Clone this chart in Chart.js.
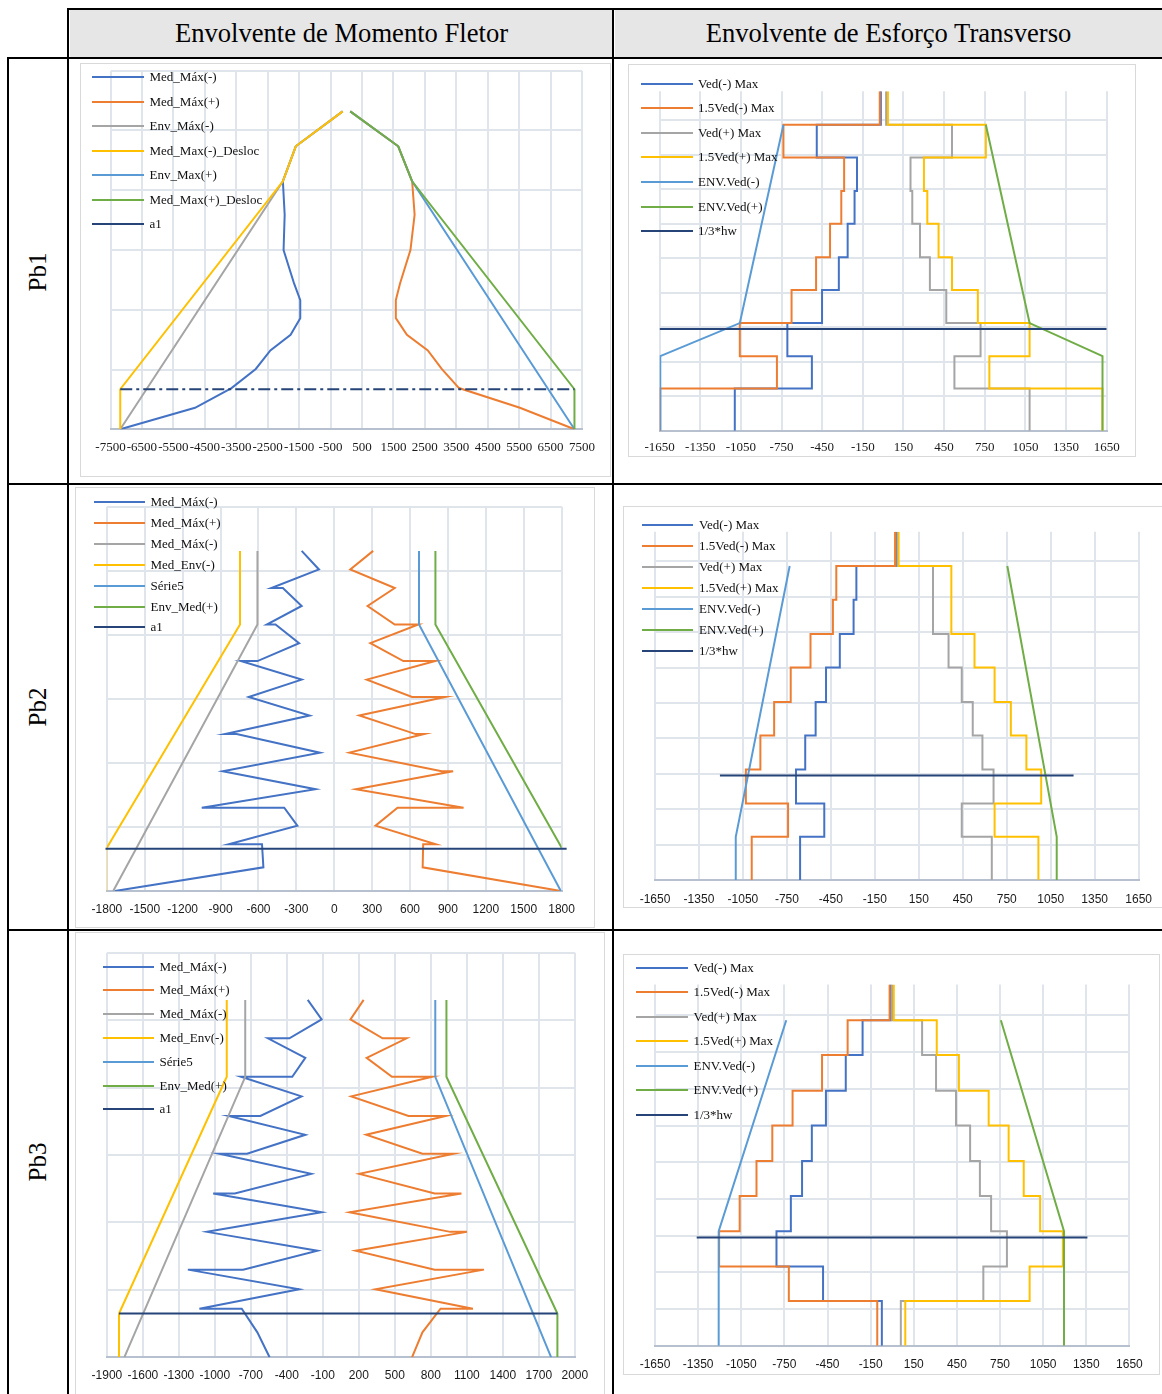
<!DOCTYPE html>
<html>
<head>
<meta charset="utf-8">
<script src="https://cdn.jsdelivr.net/npm/chart.js@4.4.0/dist/chart.umd.min.js"></script>
<style>
  body { margin: 0; background: #fff; width: 1162px; height: 1394px; position: relative; overflow: hidden; font-family: "Liberation Serif", serif; color: #000; }
  .hl { position: absolute; height: 2px; background: #000; }
  .vl { position: absolute; width: 2px; background: #000; }
  .head { position: absolute; top: 10px; height: 47px; background: #e7e6e6; font-size: 26.6px; line-height: 47px; text-align: center; }
  .rowlab { position: absolute; width: 120px; height: 30px; line-height: 30px; font-size: 25px; text-align: center; transform: rotate(-90deg); }
  .frame { position: absolute; border: 1px solid #d9d9d9; box-sizing: border-box; pointer-events: none; }
  canvas { position: absolute; }
  .lg { position: absolute; font-size: 13px; white-space: nowrap; color: #111; }
</style>
</head>
<body>
<div class="head" style="left:70px;width:543px">Envolvente de Momento Fletor</div>
<div class="head" style="left:615px;width:547px">Envolvente de Esforço Transverso</div>
<div class="rowlab" style="left:-22px;top:257px">Pb1</div>
<div class="rowlab" style="left:-22px;top:692px">Pb2</div>
<div class="rowlab" style="left:-22px;top:1147px">Pb3</div>

<script>
// ---------- Pb1 : momento fletor ----------
const pb1MomY = [5.32, 4.735, 4.15, 3.59, 3.0, 2.44, 2.16, 1.86, 1.58, 1.32, 1.01, 0.69, 0.36, 0];
const pb1MedNeg = [-114, -1606, -2016, -1959, -1994, -1660, -1463, -1463, -1771, -2414, -2878, -3651, -4811, -7190];
const pb1MedPos = [127, 1654, 2096, 2175, 2042, 1711, 1577, 1577, 1930, 2595, 3037, 3587, 5524, 7260];
const pb1EnvY = [5.32, 4.735, 4.15, 0];
const pb1EnvNeg = [-114, -1606, -2016, -7190];
const pb1EnvPos = [127, 1654, 2096, 7260];
const pb1DeslocY = [5.32, 4.735, 4.15, 0.67, 0];
const pb1DeslocNeg = [-114, -1606, -2016, -7190, -7190];
const pb1DeslocPos = [127, 1654, 2096, 7260, 7260];
const pb1A1X = [-7190, 7260];
const pb1A1Y = [0.67, 0.67];
const pb1MomTicks = [-7500, -6500, -5500, -4500, -3500, -2500, -1500, -500, 500, 1500, 2500, 3500, 4500, 5500, 6500, 7500];

// ---------- Pb2 : momento fletor ----------
const pb2MedNegX = [-258, -121, -498, -407, -258, -534, -465, -278, -608, -740, -258, -677, -195, -864, -773, -113, -883, -148, -1049, -396, -292, -836, -572, -561, -1737];
const pb2MedNegY = [5.31, 5.02, 4.73, 4.73, 4.45, 4.16, 4.16, 3.87, 3.59, 3.59, 3.30, 3.03, 2.74, 2.45, 2.45, 2.16, 1.87, 1.59, 1.30, 1.30, 1.02, 0.73, 0.73, 0.37, 0];
const pb2MedPosX = [308, 127, 479, 264, 479, 666, 286, 547, 801, 258, 616, 878, 198, 644, 713, 121, 851, 941, 171, 1024, 501, 327, 804, 704, 700, 1794];
const pb2MedPosY = [5.31, 5.02, 4.73, 4.45, 4.16, 4.16, 3.87, 3.59, 3.59, 3.30, 3.03, 3.03, 2.74, 2.45, 2.45, 2.16, 1.87, 1.87, 1.59, 1.30, 1.30, 1.02, 0.73, 0.73, 0.37, 0];
const pb2GrayX = [-608, -608, -1750];
const pb2GrayY = [5.31, 4.16, 0];
const pb2EnvNegX = [-746, -746, -1805, -1805];
const pb2EnvNegY = [5.31, 4.16, 0.66, 0];
const pb2Serie5X = [671, 671, 1794];
const pb2Serie5Y = [5.31, 4.16, 0];
const pb2EnvPosX = [801, 801, 1805, 1805];
const pb2EnvPosY = [5.31, 4.16, 0.66, 0];
const pb2A1X = [-1811, 1840];
const pb2A1Y = [0.66, 0.66];
const pb2MomTicks = [-1800, -1500, -1200, -900, -600, -300, 0, 300, 600, 900, 1200, 1500, 1800];

// ---------- Pb3 : momento fletor ----------
const pb3MedNegX = [-226, -110, -379, -558, -246, -355, -782, -278, -621, -884, -246, -732, -964, -197, -834, -1014, -110, -1066, -145, -765, -1225, -298, -1129, -776, -646, -544];
const pb3MedNegY = [5.30, 5.01, 4.73, 4.73, 4.44, 4.16, 4.16, 3.87, 3.58, 3.58, 3.30, 3.02, 3.02, 2.72, 2.43, 2.43, 2.15, 1.86, 1.58, 1.30, 1.30, 1.01, 0.72, 0.72, 0.37, 0];
const pb3MedPosX = [240, 130, 398, 598, 265, 476, 812, 137, 614, 924, 261, 730, 990, 204, 832, 1055, 123, 962, 1101, 174, 832, 1243, 339, 1151, 881, 730, 643];
const pb3MedPosY = [5.30, 5.01, 4.73, 4.73, 4.44, 4.16, 4.16, 3.87, 3.58, 3.58, 3.30, 3.02, 3.02, 2.72, 2.43, 2.43, 2.15, 1.86, 1.86, 1.58, 1.30, 1.30, 1.01, 0.72, 0.72, 0.37, 0];
const pb3GrayX = [-747, -747, -1755];
const pb3GrayY = [5.30, 4.16, 0];
const pb3EnvNegX = [-901, -901, -1799, -1799];
const pb3EnvNegY = [5.30, 4.16, 0.65, 0];
const pb3Serie5X = [837, 837, 1803];
const pb3Serie5Y = [5.30, 4.16, 0];
const pb3EnvPosX = [930, 930, 1855, 1855];
const pb3EnvPosY = [5.30, 4.16, 0.65, 0];
const pb3A1X = [-1799, 1855];
const pb3A1Y = [0.65, 0.65];
const pb3MomTicks = [-1900, -1600, -1300, -1000, -700, -400, -100, 200, 500, 800, 1100, 1400, 1700, 2000];

// ---------- esforço transverso (10 pisos, de baixo para cima) ----------
const shearLevels = [0, 1.22, 2.16, 3.12, 4.08, 5.03, 6.0, 6.95, 7.92, 8.87, 9.84];
const shearTicks = [-1650, -1350, -1050, -750, -450, -150, 150, 450, 750, 1050, 1350, 1650];

const pb1VedNeg = [-1095, -526, -707, -451, -327, -262, -211, -193, -490, -17];
const pb1VedNeg15 = [-1645, -784, -1058, -676, -495, -392, -309, -288, -736, -25];
const pb1VedPos = [1081, 526, 719, 466, 345, 272, 215, 202, 508, 22];
const pb1VedPos15 = [1619, 784, 1081, 699, 508, 409, 326, 301, 758, 35];
const pb1EnvVNegX = [-1645, -1645, -1058, -736];
const pb1EnvVPosX = [1619, 1619, 1081, 758];
const pb1EnvVY = [0, 2.16, 3.12, 8.87];
const pb1HwX = [-1650, 1650];

const pb2VedNeg = [-660, -495, -688, -625, -554, -483, -389, -295, -276, -5];
const pb2VedNeg15 = [-990, -742, -1030, -931, -837, -724, -589, -436, -413, -12];
const pb2VedPos = [648, 443, 660, 584, 518, 443, 353, 247, 247, 5];
const pb2VedPos15 = [966, 667, 985, 884, 778, 667, 530, 372, 372, 12];
const pb2EnvVNegX = [-1099, -1099, -731];
const pb2EnvVPosX = [1091, 1091, 754];
const pb2EnvVY = [0, 1.22, 8.87];
const pb2HwX = [-1207, 1206];

const pb3VedNeg = [-72, -481, -805, -705, -627, -559, -461, -323, -206, -11];
const pb3VedNeg15 = [-104, -719, -1204, -1061, -944, -834, -693, -488, -310, -18];
const pb3VedPos = [60, 634, 798, 688, 610, 542, 444, 305, 208, 0];
const pb3VedPos15 = [91, 956, 1187, 1029, 915, 810, 671, 464, 310, 11];
const pb3EnvVNegX = [-1207, -1207, -737];
const pb3EnvVPosX = [1195, 1195, 756];
const pb3EnvVY = [0, 3.12, 8.87];
const pb3HwX = [-1360, 1358];

const hwY = [2.95, 2.95];

const momLabels1 = ['Med_Máx(-)', 'Med_Máx(+)', 'Env_Máx(-)', 'Med_Max(-)_Desloc', 'Env_Max(+)', 'Med_Max(+)_Desloc', 'a1'];
const momLabels2 = ['Med_Máx(-)', 'Med_Máx(+)', 'Med_Máx(-)', 'Med_Env(-)', 'Série5', 'Env_Med(+)', 'a1'];
const shearLabels = ['Ved(-) Max', '1.5Ved(-) Max', 'Ved(+) Max', '1.5Ved(+) Max', 'ENV.Ved(-)', 'ENV.Ved(+)', '1/3*hw'];
const colors = ['#4472C4', '#ED7D31', '#A5A5A5', '#FFC000', '#5B9BD5', '#70AD47', '#264478'];

const GRID = '#e0e4eb';
const AXIS = '#b7c0cf';

function pts(xs, ys) {
    return xs.map((x, i) => ({ x: x, y: ys[i] }));
}

function steps(vals) {
    const out = [];
    vals.forEach((v, i) => {
        out.push({ x: v, y: shearLevels[i] });
        out.push({ x: v, y: shearLevels[i + 1] });
    });
    return out;
}

function line(x, y, w, h, cls) {
    const d = document.createElement('div');
    d.className = cls;
    d.style.left = x + 'px';
    d.style.top = y + 'px';
    if (cls === 'hl') d.style.width = w + 'px'; else d.style.height = h + 'px';
    document.body.appendChild(d);
}

// table lines
line(68, 8, 1094, 0, 'hl');
line(8, 57, 1154, 0, 'hl');
line(8, 483, 1154, 0, 'hl');
line(8, 929, 1154, 0, 'hl');
line(7, 57, 0, 1337, 'vl');
line(67, 8, 0, 1386, 'vl');
line(612, 8, 0, 1386, 'vl');

function makeChart(c) {
    const [fl, ft, fr, fb] = c.frame;
    const [pl, pt, pr, pb] = c.plot;
    const cv = document.createElement('canvas');
    cv.width = fr - fl;
    cv.height = fb - ft;
    cv.style.left = fl + 'px';
    cv.style.top = ft + 'px';
    document.body.appendChild(cv);

    const box = document.createElement('div');
    box.className = 'frame';
    box.style.left = fl + 'px';
    box.style.top = ft + 'px';
    box.style.width = (fr - fl) + 'px';
    box.style.height = (fb - ft) + 'px';
    document.body.appendChild(box);

    new Chart(cv, {
        type: 'scatter',
        data: {
            datasets: c.series.map((s, i) => ({
                label: c.labels[i],
                data: s.data,
                borderColor: colors[i],
                backgroundColor: colors[i],
                borderWidth: 2,
                borderDash: s.dash || [],
                showLine: true,
                pointRadius: 0,
                pointHoverRadius: 0,
                tension: 0,
                fill: false,
                clip: s.clip === false ? false : undefined,
                order: 10 - i
            }))
        },
        options: {
            responsive: false,
            animation: false,
            events: [],
            layout: {
                padding: { left: pl - fl, right: fr - pr, top: pt - ft, bottom: 0 }
            },
            plugins: {
                legend: { display: false },
                tooltip: { enabled: false }
            },
            scales: {
                x: {
                    type: 'linear',
                    min: c.xTicks[0],
                    max: c.xTicks[c.xTicks.length - 1],
                    afterBuildTicks: ax => { ax.ticks = c.xTicks.map(v => ({ value: v })); },
                    afterFit: ax => { ax.height = fb - pb; },
                    ticks: {
                        autoSkip: false,
                        maxRotation: 0,
                        minRotation: 0,
                        padding: c.tickPad,
                        color: '#1a1a1a',
                        font: { family: c.tickFont, size: c.tickSize },
                        callback: v => String(v)
                    },
                    grid: { color: GRID, lineWidth: 2, drawTicks: false },
                    border: { display: true, color: AXIS, width: 2 }
                },
                y: {
                    type: 'linear',
                    min: 0,
                    max: c.yMax,
                    afterBuildTicks: ax => { ax.ticks = c.yGrid.map(v => ({ value: v })); },
                    afterFit: ax => { ax.width = 0; },
                    ticks: { display: false },
                    grid: { color: GRID, lineWidth: 2, drawTicks: false },
                    border: { display: false }
                }
            }
        }
    });

    // legend drawn as html on top of the plot
    const lg = c.legend;
    c.labels.forEach((lab, i) => {
        const y = lg.y0 + i * lg.dy;
        const sw = document.createElement('div');
        sw.className = 'lg';
        sw.style.left = lg.x + 'px';
        sw.style.top = (y - 1) + 'px';
        sw.style.width = lg.w + 'px';
        sw.style.height = '2px';
        sw.style.background = colors[i];
        document.body.appendChild(sw);
        const t = document.createElement('div');
        t.className = 'lg';
        t.style.left = lg.tx + 'px';
        t.style.top = (y - 8) + 'px';
        t.style.lineHeight = '16px';
        t.textContent = lab;
        document.body.appendChild(t);
    });
}

const serif = '"Liberation Serif", serif';
const sans = '"Liberation Sans", Arial, sans-serif';
const momGrid = [0, 1, 2, 3, 4, 5, 6];
const shearGrid = [0, 1, 2, 3, 4, 5, 6, 7, 8, 9];

makeChart({
    frame: [80, 63, 611, 477], plot: [110.5, 70.7, 582, 429.3],
    xTicks: pb1MomTicks, yMax: 6, yGrid: momGrid, tickFont: serif, tickSize: 13, tickPad: 10,
    labels: momLabels1,
    legend: { x: 92, w: 52, tx: 149.5, y0: 77, dy: 24.5 },
    series: [
        { data: pts(pb1MedNeg, pb1MomY) },
        { data: pts(pb1MedPos, pb1MomY) },
        { data: pts(pb1EnvNeg, pb1EnvY) },
        { data: pts(pb1DeslocNeg, pb1DeslocY) },
        { data: pts(pb1EnvPos, pb1EnvY) },
        { data: pts(pb1DeslocPos, pb1DeslocY) },
        { data: pts(pb1A1X, pb1A1Y), dash: [12, 4, 3, 4] }
    ]
});

makeChart({
    frame: [628, 64, 1136, 457], plot: [659.6, 91.3, 1106.7, 430.7],
    xTicks: shearTicks, yMax: 9.84, yGrid: shearGrid, tickFont: serif, tickSize: 13, tickPad: 9,
    labels: shearLabels,
    legend: { x: 641, w: 52, tx: 698, y0: 83.5, dy: 24.6 },
    series: [
        { data: steps(pb1VedNeg) },
        { data: steps(pb1VedNeg15) },
        { data: steps(pb1VedPos) },
        { data: steps(pb1VedPos15) },
        { data: pts(pb1EnvVNegX, pb1EnvVY) },
        { data: pts(pb1EnvVPosX, pb1EnvVY) },
        { data: pts(pb1HwX, hwY) }
    ]
});

makeChart({
    frame: [75, 487, 595, 928], plot: [106.9, 506.7, 561.6, 891],
    xTicks: pb2MomTicks, yMax: 6, yGrid: momGrid, tickFont: sans, tickSize: 12, tickPad: 11,
    labels: momLabels2,
    legend: { x: 94, w: 51, tx: 150.5, y0: 502, dy: 20.9 },
    series: [
        { data: pts(pb2MedNegX, pb2MedNegY) },
        { data: pts(pb2MedPosX, pb2MedPosY) },
        { data: pts(pb2GrayX, pb2GrayY) },
        { data: pts(pb2EnvNegX, pb2EnvNegY) },
        { data: pts(pb2Serie5X, pb2Serie5Y) },
        { data: pts(pb2EnvPosX, pb2EnvPosY) },
        { data: pts(pb2A1X, pb2A1Y), clip: false }
    ]
});

makeChart({
    frame: [623, 506, 1164, 908], plot: [655, 531.7, 1145.2, 880],
    xTicks: shearTicks, yMax: 9.84, yGrid: shearGrid, tickFont: sans, tickSize: 12, tickPad: 12,
    labels: shearLabels,
    legend: { x: 642, w: 51, tx: 699, y0: 525, dy: 21 },
    series: [
        { data: steps(pb2VedNeg) },
        { data: steps(pb2VedNeg15) },
        { data: steps(pb2VedPos) },
        { data: steps(pb2VedPos15) },
        { data: pts(pb2EnvVNegX, pb2EnvVY) },
        { data: pts(pb2EnvVPosX, pb2EnvVY) },
        { data: pts(pb2HwX, hwY) }
    ]
});

makeChart({
    frame: [75, 932, 605, 1400], plot: [106.9, 952.7, 574.8, 1357.3],
    xTicks: pb3MomTicks, yMax: 6, yGrid: momGrid, tickFont: sans, tickSize: 12, tickPad: 11.5,
    labels: momLabels2,
    legend: { x: 103, w: 51, tx: 159.5, y0: 966.5, dy: 23.8 },
    series: [
        { data: pts(pb3MedNegX, pb3MedNegY) },
        { data: pts(pb3MedPosX, pb3MedPosY) },
        { data: pts(pb3GrayX, pb3GrayY) },
        { data: pts(pb3EnvNegX, pb3EnvNegY) },
        { data: pts(pb3Serie5X, pb3Serie5Y) },
        { data: pts(pb3EnvPosX, pb3EnvPosY) },
        { data: pts(pb3A1X, pb3A1Y) }
    ]
});

makeChart({
    frame: [623, 954, 1160, 1375], plot: [655, 984.6, 1129.4, 1345.7],
    xTicks: shearTicks, yMax: 9.84, yGrid: shearGrid, tickFont: sans, tickSize: 12, tickPad: 11.5,
    labels: shearLabels,
    legend: { x: 636, w: 52, tx: 693.5, y0: 967.5, dy: 24.5 },
    series: [
        { data: steps(pb3VedNeg) },
        { data: steps(pb3VedNeg15) },
        { data: steps(pb3VedPos) },
        { data: steps(pb3VedPos15) },
        { data: pts(pb3EnvVNegX, pb3EnvVY) },
        { data: pts(pb3EnvVPosX, pb3EnvVY) },
        { data: pts(pb3HwX, hwY) }
    ]
});
</script>
</body>
</html>
